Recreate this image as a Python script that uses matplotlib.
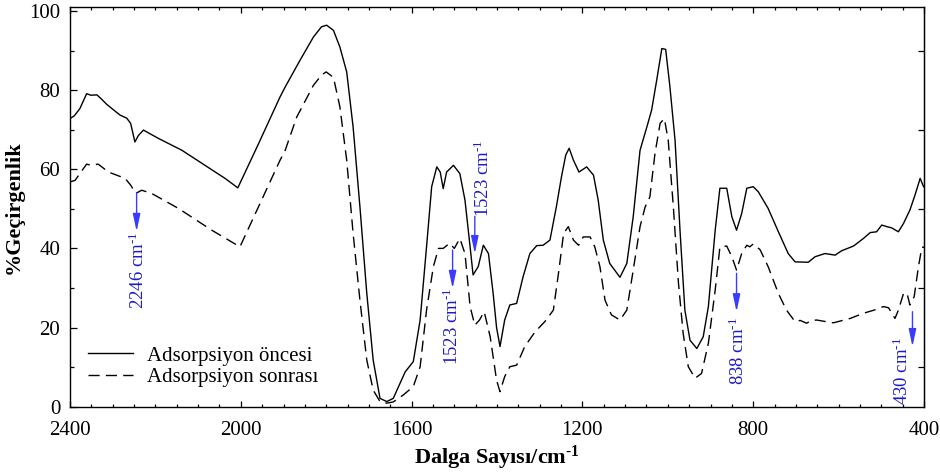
import matplotlib
matplotlib.use("Agg")
import matplotlib.pyplot as plt
from matplotlib.ticker import MultipleLocator, FixedLocator

plt.rcParams['font.family'] = ['Liberation Serif', 'DejaVu Serif']
plt.rcParams['mathtext.fontset'] = 'custom'
plt.rcParams['mathtext.rm'] = 'Liberation Serif'
plt.rcParams['mathtext.bf'] = 'Liberation Serif:bold'
plt.rcParams['mathtext.default'] = 'regular'

# --- data: wavenumber (cm-1) and transmittance (%) ---
before_w = [2400, 2390, 2377, 2361, 2351, 2337, 2325, 2314, 2298, 2283, 2267, 2258,
            2248, 2240, 2228, 2193, 2138, 2084, 2037, 2007, 1960, 1908, 1896, 1861,
            1830, 1811, 1799, 1783, 1768, 1752, 1737, 1721, 1705, 1690, 1674, 1658,
            1643, 1615, 1596, 1580, 1565, 1553, 1541, 1533, 1526, 1518, 1502, 1487,
            1475, 1463, 1456, 1444, 1432, 1420, 1409, 1401, 1393, 1382, 1370, 1354,
            1339, 1323, 1307, 1292, 1276, 1261, 1249, 1239, 1231, 1221, 1208, 1190,
            1174, 1163, 1151, 1136, 1112, 1096, 1081, 1065, 1049, 1038, 1026, 1014,
            1005, 995, 983, 971, 960, 948, 932, 917, 905, 889, 878, 862, 850, 839,
            827, 815, 800, 788, 765, 741, 718, 702, 671, 655, 632, 608, 593, 565,
            542, 526, 511, 499, 487, 476, 460, 448, 433, 421, 409, 401]
before_t = [72.8, 73.5, 75.3, 79.1, 78.7, 78.8, 77.6, 76.4, 75.0, 73.7, 72.9, 71.6,
            66.9, 68.5, 69.9, 67.8, 64.8, 61.0, 57.7, 55.3, 66.1, 78.3, 80.8, 87.6,
            93.4, 96.0, 96.4, 95.1, 90.9, 84.6, 70.7, 50.5, 28.7, 11.8, 2.1, 1.3,
            2.1, 8.8, 11.4, 21.9, 40.4, 55.6, 60.6, 59.3, 55.1, 59.3, 61.0, 58.9,
            52.2, 40.4, 33.3, 35.4, 40.8, 38.7, 28.6, 20.0, 15.2, 21.9, 25.7, 26.1,
            32.8, 38.7, 40.7, 40.8, 42.1, 50.5, 58.1, 63.6, 65.3, 62.3, 59.3, 60.6,
            58.5, 52.2, 42.1, 36.2, 32.7, 36.2, 48.0, 64.8, 70.7, 74.9, 82.5, 90.5,
            90.3, 80.8, 67.3, 43.8, 24.4, 16.8, 14.7, 17.7, 25.3, 44.6, 55.2, 55.2, 48.0, 44.6,
            48.8, 55.2, 55.6, 54.3, 50.1, 44.2, 38.7, 36.6, 36.5, 37.9, 38.7, 38.3, 39.4, 40.6,
            42.5, 44.0, 44.2, 45.9, 45.5, 45.2, 44.2, 46.3, 49.7, 53.5, 57.7, 55.6]

after_w = [2400, 2388, 2377, 2361, 2351, 2334, 2310, 2271, 2258, 2246, 2232, 2209,
           2146, 2068, 2002, 1908, 1896, 1869, 1830, 1811, 1800, 1783, 1768, 1752,
           1737, 1721, 1705, 1690, 1674, 1658, 1643, 1619, 1596, 1580, 1565, 1549,
           1537, 1526, 1511, 1500, 1487, 1475, 1463, 1452, 1441, 1430, 1416, 1401,
           1393, 1382, 1370, 1354, 1335, 1311, 1288, 1268, 1256, 1244, 1233, 1221,
           1209, 1198, 1182, 1171, 1159, 1147, 1132, 1112, 1096, 1081, 1065, 1053,
           1042, 1030, 1018, 1008, 999, 987, 975, 964, 952, 936, 921, 905, 889,
           878, 862, 850, 839, 827, 815, 808, 800, 784, 765, 741, 722, 702, 690,
           675, 663, 651, 630, 612, 573, 542, 511, 495, 483, 468, 460, 448, 440,
           433, 423, 413, 405, 400]
after_t = [56.8, 57.2, 58.9, 61.3, 61.0, 61.3, 59.3, 57.7, 56.0, 53.9, 54.7, 53.9,
           50.1, 44.6, 40.4, 62.3, 64.8, 73.2, 81.2, 83.8, 84.6, 83.2, 75.8, 62.3,
           43.8, 26.9, 11.8, 4.2, 1.3, 0.9, 1.2, 3.0, 5.1, 10.1, 24.4, 35.4,
           40.0, 40.0, 41.3, 40.0, 42.5, 38.7, 25.3, 20.6, 21.9, 24.0, 17.7, 6.7,
           3.8, 7.6, 10.1, 10.5, 15.2, 18.9, 21.5, 24.4, 33.7, 43.8, 45.5, 42.1,
           40.8, 42.9, 42.9, 40.4, 35.4, 26.9, 23.2, 21.9, 24.4, 34.5, 45.5, 50.5,
           53.0, 64.0, 71.6, 72.8, 67.3, 50.5, 31.2, 18.5, 10.1, 7.2, 8.4, 16.0, 29.5,
           40.3, 40.6, 37.9, 34.5, 38.7, 40.8, 40.4, 41.1, 39.7, 35.4, 28.6, 24.4, 21.5, 21.8,
           21.1, 21.8, 21.9, 21.5, 21.2, 22.3, 23.6, 24.6, 25.3, 25.0, 22.3, 24.4, 28.6, 28.7,
           25.7, 27.8, 35.4, 40.3, 40.3]

series_labels = ["Adsorpsiyon öncesi", "Adsorpsiyon sonrası"]

# annotations: label, arrow x, arrow start y, arrow end y, text x, text y
ann_labels = ["2246 cm$^{\u2010 1}$", "1523 cm$^{\u2010 1}$", "1523 cm$^{\u2010 1}$",
              "838 cm$^{\u2010 1}$", "430 cm$^{\u2010 1}$"]
ann_arrow_x = [2244, 1452, 1504, 839, 427]
ann_y0 = [54.0, 48.1, 39.6, 33.7, 24.0]
ann_y1 = [44.3, 38.7, 29.9, 24.0, 15.2]
ann_text_x = [2241, 1433, 1505, 835, 451]
ann_text_y = [34.4, 57.7, 20.2, 14.2, 8.9]

fig = plt.figure(figsize=(9.4, 4.76), dpi=100)
ax = fig.add_axes([70/940, 1 - 406.7/476, 854/940, 399.7/476])

ax.plot(before_w, before_t, color='black', lw=1.0, label=series_labels[0])
ax.plot(after_w, after_t, color='black', lw=1.0, dashes=(8, 4.5), label=series_labels[1])

ax.set_xlim(2400, 400)
ax.set_ylim(0, 101)

ax.xaxis.set_major_locator(MultipleLocator(400))
ax.xaxis.set_minor_locator(MultipleLocator(50))
ax.yaxis.set_major_locator(MultipleLocator(20))
ax.yaxis.set_minor_locator(MultipleLocator(10))
ax.tick_params(which='both', direction='in', width=0.9, top=True, right=False)
ax.tick_params(axis='x', which='major', length=4, labelsize=15, pad=10)
ax.tick_params(axis='x', which='minor', length=2.3)
ax.tick_params(axis='y', which='major', length=5, labelsize=15, pad=7)
ax.tick_params(axis='y', which='minor', length=3)

sec = ax.secondary_yaxis('right')
sec.yaxis.set_major_locator(FixedLocator([10, 30, 50, 70, 90]))
sec.tick_params(direction='in', length=4, width=0.9, labelright=False)

for s in ax.spines.values():
    s.set_linewidth(1.0)

ax.set_xlabel("Dalga Sayısı/cm$^{\\mathbf{\u2010 1}}$", fontsize=16, fontweight='bold', labelpad=3)
ax.set_ylabel("%Geçirgenlik", fontsize=16, fontweight='bold', labelpad=4)

for lab, xa, y0, y1, tx, ty in zip(ann_labels, ann_arrow_x, ann_y0, ann_y1, ann_text_x, ann_text_y):
    ax.annotate("", xy=(xa, y1), xytext=(xa, y0),
                arrowprops=dict(arrowstyle='-|>,head_length=0.7,head_width=0.15',
                                color='#3b3bff', lw=1.0, shrinkA=0, shrinkB=0,
                                mutation_scale=15))
    ax.text(tx, ty, lab, rotation=90, ha='center', va='center',
            color='#1c1cc8', fontsize=13.5)

ax.legend(loc='upper left', bbox_to_anchor=(0.021, 0.152), frameon=False,
          fontsize=15, handlelength=2.15, handletextpad=0.7, labelspacing=0.1,
          borderpad=0, borderaxespad=0)

fig.savefig("out.png", dpi=100)
